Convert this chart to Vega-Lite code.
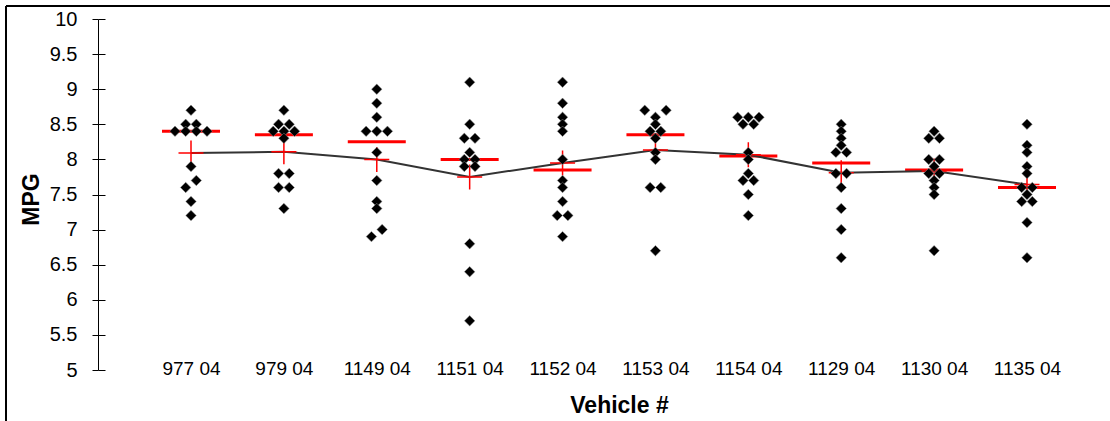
{
  "$schema": "https://vega.github.io/schema/vega-lite/v6.json",
  "width": 1104,
  "height": 415,
  "padding": {"left": 6, "top": 6, "right": 0, "bottom": 0},
  "autosize": {"type": "none"},
  "background": "white",
  "config": {
    "view": {"stroke": "#000", "strokeWidth": 2, "strokeDash": [1104, 1519, 415, 0]},
    "font": "Liberation Sans",
    "axis": {"grid": false, "labelFont": "Liberation Sans", "titleFont": "Liberation Sans", "labelColor": "#000", "titleColor": "#000", "tickColor": "#000", "domainColor": "#000"}
  },
  "data": {
    "values": [
      {"vehicle": "977 04", "mpg": 8.7, "slot": 0},
      {"vehicle": "977 04", "mpg": 8.5, "slot": -1},
      {"vehicle": "977 04", "mpg": 8.5, "slot": 1},
      {"vehicle": "977 04", "mpg": 8.4, "slot": -3},
      {"vehicle": "977 04", "mpg": 8.4, "slot": -1},
      {"vehicle": "977 04", "mpg": 8.4, "slot": 1},
      {"vehicle": "977 04", "mpg": 8.4, "slot": 3},
      {"vehicle": "977 04", "mpg": 7.9, "slot": 0},
      {"vehicle": "977 04", "mpg": 7.7, "slot": 1},
      {"vehicle": "977 04", "mpg": 7.6, "slot": -1},
      {"vehicle": "977 04", "mpg": 7.4, "slot": 0},
      {"vehicle": "977 04", "mpg": 7.2, "slot": 0},

      {"vehicle": "979 04", "mpg": 8.7, "slot": 0},
      {"vehicle": "979 04", "mpg": 8.5, "slot": -1},
      {"vehicle": "979 04", "mpg": 8.5, "slot": 1},
      {"vehicle": "979 04", "mpg": 8.4, "slot": -2},
      {"vehicle": "979 04", "mpg": 8.4, "slot": 0},
      {"vehicle": "979 04", "mpg": 8.4, "slot": 2},
      {"vehicle": "979 04", "mpg": 8.3, "slot": 0},
      {"vehicle": "979 04", "mpg": 7.8, "slot": -1},
      {"vehicle": "979 04", "mpg": 7.8, "slot": 1},
      {"vehicle": "979 04", "mpg": 7.6, "slot": -1},
      {"vehicle": "979 04", "mpg": 7.6, "slot": 1},
      {"vehicle": "979 04", "mpg": 7.3, "slot": 0},

      {"vehicle": "1149 04", "mpg": 9.0, "slot": 0},
      {"vehicle": "1149 04", "mpg": 8.8, "slot": 0},
      {"vehicle": "1149 04", "mpg": 8.6, "slot": 0},
      {"vehicle": "1149 04", "mpg": 8.4, "slot": -2},
      {"vehicle": "1149 04", "mpg": 8.4, "slot": 0},
      {"vehicle": "1149 04", "mpg": 8.4, "slot": 2},
      {"vehicle": "1149 04", "mpg": 8.1, "slot": 0},
      {"vehicle": "1149 04", "mpg": 7.7, "slot": 0},
      {"vehicle": "1149 04", "mpg": 7.4, "slot": 0},
      {"vehicle": "1149 04", "mpg": 7.3, "slot": 0},
      {"vehicle": "1149 04", "mpg": 7.0, "slot": 1},
      {"vehicle": "1149 04", "mpg": 6.9, "slot": -1},

      {"vehicle": "1151 04", "mpg": 9.1, "slot": 0},
      {"vehicle": "1151 04", "mpg": 8.5, "slot": 0},
      {"vehicle": "1151 04", "mpg": 8.3, "slot": -1},
      {"vehicle": "1151 04", "mpg": 8.3, "slot": 1},
      {"vehicle": "1151 04", "mpg": 8.1, "slot": 0},
      {"vehicle": "1151 04", "mpg": 8.0, "slot": -1},
      {"vehicle": "1151 04", "mpg": 8.0, "slot": 1},
      {"vehicle": "1151 04", "mpg": 7.9, "slot": -1},
      {"vehicle": "1151 04", "mpg": 7.9, "slot": 1},
      {"vehicle": "1151 04", "mpg": 6.8, "slot": 0},
      {"vehicle": "1151 04", "mpg": 6.4, "slot": 0},
      {"vehicle": "1151 04", "mpg": 5.7, "slot": 0},

      {"vehicle": "1152 04", "mpg": 9.1, "slot": 0},
      {"vehicle": "1152 04", "mpg": 8.8, "slot": 0},
      {"vehicle": "1152 04", "mpg": 8.6, "slot": 0},
      {"vehicle": "1152 04", "mpg": 8.5, "slot": 0},
      {"vehicle": "1152 04", "mpg": 8.4, "slot": 0},
      {"vehicle": "1152 04", "mpg": 8.0, "slot": 0},
      {"vehicle": "1152 04", "mpg": 7.7, "slot": 0},
      {"vehicle": "1152 04", "mpg": 7.6, "slot": 0},
      {"vehicle": "1152 04", "mpg": 7.4, "slot": 0},
      {"vehicle": "1152 04", "mpg": 7.2, "slot": -1},
      {"vehicle": "1152 04", "mpg": 7.2, "slot": 1},
      {"vehicle": "1152 04", "mpg": 6.9, "slot": 0},

      {"vehicle": "1153 04", "mpg": 8.7, "slot": -2},
      {"vehicle": "1153 04", "mpg": 8.7, "slot": 2},
      {"vehicle": "1153 04", "mpg": 8.6, "slot": 0},
      {"vehicle": "1153 04", "mpg": 8.5, "slot": 0},
      {"vehicle": "1153 04", "mpg": 8.4, "slot": -1},
      {"vehicle": "1153 04", "mpg": 8.4, "slot": 1},
      {"vehicle": "1153 04", "mpg": 8.3, "slot": 0},
      {"vehicle": "1153 04", "mpg": 8.1, "slot": 0},
      {"vehicle": "1153 04", "mpg": 8.0, "slot": 0},
      {"vehicle": "1153 04", "mpg": 7.6, "slot": -1},
      {"vehicle": "1153 04", "mpg": 7.6, "slot": 1},
      {"vehicle": "1153 04", "mpg": 6.7, "slot": 0},

      {"vehicle": "1154 04", "mpg": 8.6, "slot": -2},
      {"vehicle": "1154 04", "mpg": 8.6, "slot": 0},
      {"vehicle": "1154 04", "mpg": 8.6, "slot": 2},
      {"vehicle": "1154 04", "mpg": 8.5, "slot": -1},
      {"vehicle": "1154 04", "mpg": 8.5, "slot": 1},
      {"vehicle": "1154 04", "mpg": 8.1, "slot": 0},
      {"vehicle": "1154 04", "mpg": 8.0, "slot": 0},
      {"vehicle": "1154 04", "mpg": 7.8, "slot": 0},
      {"vehicle": "1154 04", "mpg": 7.7, "slot": -1},
      {"vehicle": "1154 04", "mpg": 7.7, "slot": 1},
      {"vehicle": "1154 04", "mpg": 7.5, "slot": 0},
      {"vehicle": "1154 04", "mpg": 7.2, "slot": 0},

      {"vehicle": "1129 04", "mpg": 8.5, "slot": 0},
      {"vehicle": "1129 04", "mpg": 8.4, "slot": 0},
      {"vehicle": "1129 04", "mpg": 8.3, "slot": 0},
      {"vehicle": "1129 04", "mpg": 8.2, "slot": 0},
      {"vehicle": "1129 04", "mpg": 8.1, "slot": -1},
      {"vehicle": "1129 04", "mpg": 8.1, "slot": 1},
      {"vehicle": "1129 04", "mpg": 7.8, "slot": -1},
      {"vehicle": "1129 04", "mpg": 7.8, "slot": 1},
      {"vehicle": "1129 04", "mpg": 7.6, "slot": 0},
      {"vehicle": "1129 04", "mpg": 7.3, "slot": 0},
      {"vehicle": "1129 04", "mpg": 7.0, "slot": 0},
      {"vehicle": "1129 04", "mpg": 6.6, "slot": 0},

      {"vehicle": "1130 04", "mpg": 8.4, "slot": 0},
      {"vehicle": "1130 04", "mpg": 8.3, "slot": -1},
      {"vehicle": "1130 04", "mpg": 8.3, "slot": 1},
      {"vehicle": "1130 04", "mpg": 8.0, "slot": -1},
      {"vehicle": "1130 04", "mpg": 8.0, "slot": 1},
      {"vehicle": "1130 04", "mpg": 7.9, "slot": 0},
      {"vehicle": "1130 04", "mpg": 7.8, "slot": -1},
      {"vehicle": "1130 04", "mpg": 7.8, "slot": 1},
      {"vehicle": "1130 04", "mpg": 7.7, "slot": 0},
      {"vehicle": "1130 04", "mpg": 7.6, "slot": 0},
      {"vehicle": "1130 04", "mpg": 7.5, "slot": 0},
      {"vehicle": "1130 04", "mpg": 6.7, "slot": 0},

      {"vehicle": "1135 04", "mpg": 8.5, "slot": 0},
      {"vehicle": "1135 04", "mpg": 8.2, "slot": 0},
      {"vehicle": "1135 04", "mpg": 8.1, "slot": 0},
      {"vehicle": "1135 04", "mpg": 7.9, "slot": 0},
      {"vehicle": "1135 04", "mpg": 7.8, "slot": 0},
      {"vehicle": "1135 04", "mpg": 7.6, "slot": -1},
      {"vehicle": "1135 04", "mpg": 7.6, "slot": 1},
      {"vehicle": "1135 04", "mpg": 7.5, "slot": 0},
      {"vehicle": "1135 04", "mpg": 7.4, "slot": -1},
      {"vehicle": "1135 04", "mpg": 7.4, "slot": 1},
      {"vehicle": "1135 04", "mpg": 7.1, "slot": 0},
      {"vehicle": "1135 04", "mpg": 6.6, "slot": 0}
    ]
  },
  "encoding": {
    "x": {
      "field": "vehicle",
      "type": "nominal",
      "sort": ["977 04", "979 04", "1149 04", "1151 04", "1152 04", "1153 04", "1154 04", "1129 04", "1130 04", "1135 04"],
      "scale": {"type": "point", "range": [185, 1021], "padding": 0},
      "axis": {
        "orient": "bottom",
        "offset": -47,
        "domain": false,
        "ticks": false,
        "tickSize": 0,
        "labelPadding": 0,
        "labelBaseline": "alphabetic",
        "labelAngle": 0,
        "labelFontSize": 19,
        "title": "Vehicle #",
        "titleFontSize": 23,
        "titleFontWeight": "bold",
        "titleX": 613,
        "titleY": 38,
        "titleBaseline": "alphabetic",
        "titleAlign": "center"
      }
    }
  },
  "layer": [
    {
      "transform": [{"aggregate": [{"op": "median", "field": "mpg", "as": "med"}], "groupby": ["vehicle"]}],
      "mark": {"type": "tick", "orient": "horizontal", "size": 58, "thickness": 3, "color": "#ff0000", "opacity": 1},
      "encoding": {
        "y": {
          "field": "med",
          "type": "quantitative",
          "scale": {"domain": [5, 10], "range": [364, 13], "nice": false, "zero": false},
          "axis": {
            "orient": "left",
            "offset": -92,
            "values": [5, 5.5, 6, 6.5, 7, 7.5, 8, 8.5, 9, 9.5, 10],
            "format": "~g",
            "tickSize": 6,
            "labelFontSize": 20,
            "labelPadding": 15,
            "title": "MPG",
            "titleFontSize": 23,
            "titleFontWeight": "bold",
            "titleAngle": 270,
            "titleX": -60,
            "titleY": 193,
            "titleBaseline": "alphabetic",
            "titleAlign": "center"
          }
        }
      }
    },
    {
      "transform": [{"aggregate": [{"op": "mean", "field": "mpg", "as": "avg"}], "groupby": ["vehicle"]}],
      "mark": {"type": "line", "interpolate": "linear", "color": "#333333", "strokeWidth": 2},
      "encoding": {
        "y": {
          "field": "avg",
          "type": "quantitative",
          "scale": {"domain": [5, 10], "range": [364, 13], "nice": false, "zero": false},
          "axis": {
            "orient": "left",
            "offset": -99,
            "values": [5, 5.5, 6, 6.5, 7, 7.5, 8, 8.5, 9, 9.5, 10],
            "tickSize": 7,
            "domain": false,
            "labels": false,
            "title": null
          }
        }
      }
    },
    {
      "transform": [{"aggregate": [{"op": "mean", "field": "mpg", "as": "avg"}], "groupby": ["vehicle"]}],
      "mark": {"type": "point", "shape": "M-1,0H1M0,-1V1", "size": 625, "filled": false, "stroke": "#ff0000", "strokeWidth": 1.5, "opacity": 1},
      "encoding": {
        "y": {
          "field": "avg",
          "type": "quantitative",
          "scale": {"domain": [5, 10], "range": [364, 13], "nice": false, "zero": false},
          "axis": null
        }
      }
    },
    {
      "mark": {"type": "point", "shape": "diamond", "filled": true, "fill": "#000000", "stroke": "#8c8c8c", "strokeWidth": 0.5, "size": 110, "opacity": 1},
      "encoding": {
        "y": {
          "field": "mpg",
          "type": "quantitative",
          "scale": {"domain": [5, 10], "range": [364, 13], "nice": false, "zero": false},
          "axis": null
        },
        "xOffset": {"field": "slot", "type": "quantitative", "scale": {"domain": [-3, 3], "range": [-16, 16]}}
      }
    }
  ],
  "resolve": {"axis": {"y": "independent"}}
}
